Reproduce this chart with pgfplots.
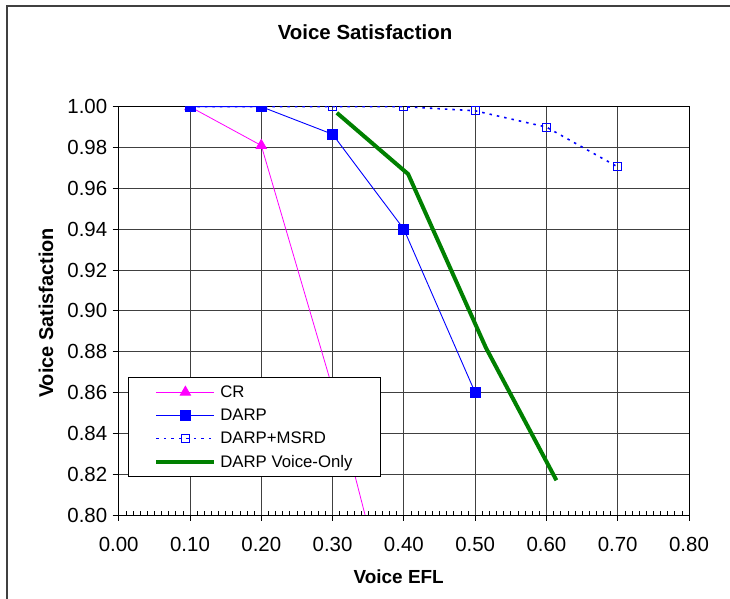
\documentclass[border=0pt]{standalone}
\usepackage{pgfplots}
\pgfplotsset{compat=1.18}
\usepackage{fontspec}
\setmainfont{Liberation Sans}
\definecolor{cmag}{RGB}{255,0,255}
\definecolor{cblue}{RGB}{0,0,255}
\definecolor{cgreen}{RGB}{0,128,0}
\begin{document}
\begin{tikzpicture}
\begin{axis}[
  scale only axis, width=570.3bp, height=408.3bp,
  xmin=0, xmax=0.8, ymin=0.8, ymax=1.0,
  xtick={0,0.1,0.2,0.3,0.4,0.5,0.6,0.7,0.8},
  ytick={0.80,0.82,0.84,0.86,0.88,0.90,0.92,0.94,0.96,0.98,1.00},
  minor x tick num=9,
  xtick pos=bottom, ytick pos=left,
  tick align=inside,
  major tick length=6bp, minor tick length=4bp,
  major x tick style={yshift=-6bp, black, line width=0.8bp},
  minor x tick style={black, line width=0.6bp},
  major y tick style={xshift=-6bp, black, line width=0.8bp},
  grid=major,
  major grid style={black!75, line width=0.8bp},
  axis line style={black, line width=0.9bp},
  /pgf/number format/assume math mode=true,
  /pgf/number format/.cd, fixed, fixed zerofill, precision=2, /pgfplots/.cd,
  tick label style={font=\fontsize{20.5}{22}\selectfont},
  xticklabel style={yshift=-19bp},
  yticklabel style={xshift=-8bp},
  title={Voice Satisfaction},
  title style={at={(axis description cs:0.432,1.168)}, anchor=center, font=\bfseries\fontsize{20.5}{22}\selectfont},
  xlabel={Voice EFL},
  xlabel style={at={(axis description cs:0.491,-0.152)}, anchor=center, font=\bfseries\fontsize{19}{21}\selectfont},
  ylabel={Voice Satisfaction},
  ylabel style={at={(axis description cs:-0.1275,0.495)}, anchor=center, font=\bfseries\fontsize{20}{21}\selectfont},
  clip marker paths=true,
  legend cell align=left,
  legend image code/.code={\draw[mark repeat=2,mark phase=2,#1] plot coordinates {(0bp,0bp)(29bp,0bp)(58bp,0bp)};},
  legend style={at={(axis description cs:0.0163,0.0931)}, anchor=south west,
    draw=black, line width=0.8bp, fill=white, font=\fontsize{16.8}{19}\selectfont,
    inner xsep=26bp, inner ysep=6bp, row sep=6bp,
    /tikz/every odd column/.append style={column sep=2bp}},
]
\addplot[cmag, line width=0.8bp, mark=triangle*, mark size=6bp, mark indices={1,2,3}, mark options={solid},
  legend image code/.code={\draw[##1, mark indices={2}] plot coordinates {(0bp,0bp)(29bp,0bp)(58bp,0bp)};}]
  coordinates {(0.1,1.000) (0.2,0.981) (0.3,0.862) (0.4,0.726)};
\addlegendentry{CR}
\addplot[cblue, line width=0.9bp, mark=square*, mark size=5bp, mark options={solid}]
  coordinates {(0.1,1.000) (0.2,1.000) (0.3,0.9865) (0.4,0.940) (0.5,0.860)};
\addlegendentry{DARP}
\addplot[cblue, line width=1.6bp, dash pattern=on 2.5bp off 5bp, mark=square, mark size=4bp, mark options={solid, fill=white, line width=1bp}]
  coordinates {(0.1,1.000) (0.2,1.000) (0.3,1.000) (0.4,1.000) (0.5,0.998) (0.6,0.990) (0.7,0.9705)};
\addlegendentry{DARP+MSRD}
\addplot[cgreen, line width=4bp]
  coordinates {(0.306,0.997) (0.406,0.967) (0.515,0.882) (0.614,0.817)};
\addlegendentry{DARP Voice-Only}
\end{axis}
\draw[black!75, line width=2bp] (-111.4bp,-84bp) -- (-111.4bp,509bp) -- (611.3bp,509bp);
\pgfresetboundingbox
\path[use as bounding box] (-118.7bp,-84bp) rectangle (611.3bp,515bp);
\end{tikzpicture}
\end{document}
